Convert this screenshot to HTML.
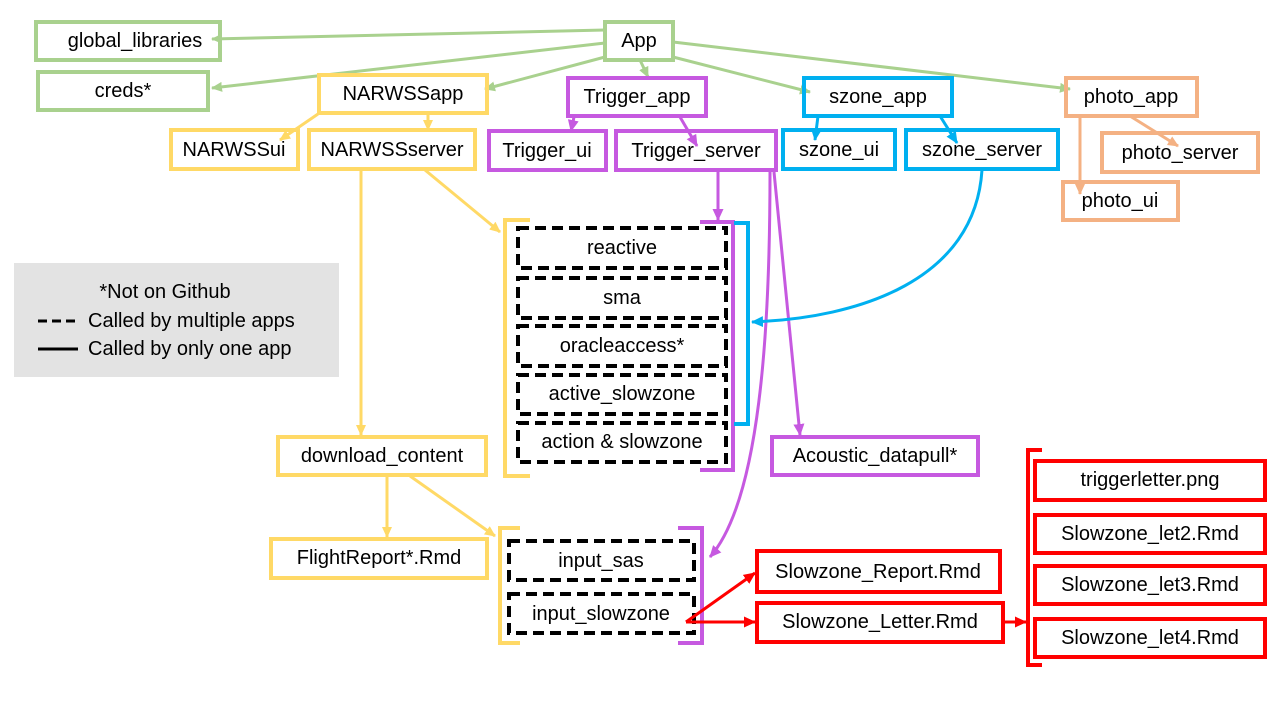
<!DOCTYPE html>
<html><head><meta charset="utf-8"><style>
body{margin:0;background:#fff;}
svg{display:block;}
text{font-family:"Liberation Sans",sans-serif;font-size:20px;fill:#000;text-anchor:middle;dominant-baseline:central;}
</style></head><body>
<svg width="1280" height="720" viewBox="0 0 1280 720" xmlns="http://www.w3.org/2000/svg">
<defs>
<marker id="g" markerWidth="11" markerHeight="10" refX="10" refY="5" orient="auto" markerUnits="userSpaceOnUse"><path d="M0,0 L11,5 L0,10 z" fill="#a9d18e"/></marker>
<marker id="y" markerWidth="11" markerHeight="10" refX="10" refY="5" orient="auto" markerUnits="userSpaceOnUse"><path d="M0,0 L11,5 L0,10 z" fill="#ffd966"/></marker>
<marker id="p" markerWidth="12" markerHeight="11" refX="11" refY="5.5" orient="auto" markerUnits="userSpaceOnUse"><path d="M0,0 L12,5.5 L0,11 z" fill="#c659e0"/></marker>
<marker id="b" markerWidth="12" markerHeight="11" refX="11" refY="5.5" orient="auto" markerUnits="userSpaceOnUse"><path d="M0,0 L12,5.5 L0,11 z" fill="#00b0f0"/></marker>
<marker id="o" markerWidth="11" markerHeight="10" refX="10" refY="5" orient="auto" markerUnits="userSpaceOnUse"><path d="M0,0 L11,5 L0,10 z" fill="#f4b183"/></marker>
<marker id="r" markerWidth="12" markerHeight="11" refX="11" refY="5.5" orient="auto" markerUnits="userSpaceOnUse"><path d="M0,0 L12,5.5 L0,11 z" fill="#ff0000"/></marker>
</defs>
<g fill="none" stroke-width="4">
<g stroke="#a9d18e">
<rect x="36" y="22" width="184" height="38"/><rect x="605" y="22" width="68" height="38"/><rect x="38" y="72" width="170" height="38"/>
</g>
<g stroke="#a9d18e" stroke-width="3">
<line x1="605" y1="30" x2="212" y2="39" marker-end="url(#g)"/>
<line x1="605" y1="43" x2="212" y2="88" marker-end="url(#g)"/>
<line x1="605" y1="57" x2="485" y2="89" marker-end="url(#g)"/>
<line x1="640" y1="60" x2="648" y2="77" marker-end="url(#g)"/>
<line x1="673" y1="57" x2="810" y2="92" marker-end="url(#g)"/>
<line x1="673" y1="42" x2="1070" y2="89" marker-end="url(#g)"/>
</g>
<g stroke="#ffd966">
<rect x="319" y="75" width="168" height="38"/><rect x="171" y="130" width="127" height="39"/><rect x="309" y="130" width="166" height="39"/>
<rect x="278" y="437" width="208" height="38"/><rect x="271" y="539" width="216" height="39"/>
<path d="M530,220 H505 V476 H530"/><path d="M520,528 H500 V643 H520"/>
</g>
<g stroke="#ffd966" stroke-width="3">
<line x1="318" y1="114" x2="280" y2="140" marker-end="url(#y)"/>
<line x1="428" y1="114" x2="428" y2="130" marker-end="url(#y)"/>
<line x1="361" y1="170" x2="361" y2="435" marker-end="url(#y)"/>
<line x1="425" y1="170" x2="500" y2="232" marker-end="url(#y)"/>
<line x1="387" y1="476" x2="387" y2="537" marker-end="url(#y)"/>
<line x1="410" y1="476" x2="495" y2="536" marker-end="url(#y)"/>
</g>
<g stroke="#c659e0">
<rect x="568" y="78" width="138" height="38"/><rect x="489" y="131" width="117" height="39"/><rect x="616" y="131" width="160" height="39"/>
<rect x="772" y="437" width="206" height="38"/>
<path d="M700,222 H733 V470 H700"/><path d="M678,528 H702 V643 H678"/>
</g>
<g stroke="#c659e0" stroke-width="3">
<line x1="574" y1="117" x2="571" y2="131" marker-end="url(#p)"/>
<line x1="680" y1="117" x2="697" y2="146" marker-end="url(#p)"/>
<line x1="718" y1="170" x2="718" y2="220" marker-end="url(#p)"/>
<line x1="774" y1="172" x2="800" y2="435" marker-end="url(#p)"/>
<path d="M770,172 C770,330 760,500 710,557" marker-end="url(#p)"/>
</g>
<g stroke="#00b0f0">
<rect x="804" y="78" width="148" height="38"/><rect x="783" y="130" width="112" height="39"/><rect x="906" y="130" width="152" height="39"/>
<path d="M734,223 H748 V424 H734"/>
</g>
<g stroke="#00b0f0" stroke-width="3">
<line x1="818" y1="116" x2="815" y2="140" marker-end="url(#b)"/>
<line x1="940" y1="116" x2="957" y2="143" marker-end="url(#b)"/>
<path d="M982,170 C975,280 860,318 752,322" marker-end="url(#b)"/>
</g>
<g stroke="#f4b183">
<rect x="1066" y="78" width="131" height="38"/><rect x="1102" y="133" width="156" height="39"/><rect x="1063" y="182" width="115" height="38"/>
</g>
<g stroke="#f4b183" stroke-width="3">
<line x1="1130" y1="116" x2="1178" y2="146" marker-end="url(#o)"/>
<line x1="1080" y1="116" x2="1080" y2="194" marker-end="url(#o)"/>
</g>
<g stroke="#000" stroke-width="4" stroke-dasharray="11,6">
<rect x="518" y="228" width="208" height="40"/><rect x="518" y="278" width="208" height="40"/>
<rect x="518" y="326" width="208" height="40"/><rect x="518" y="375" width="208" height="39"/>
<rect x="518" y="423" width="208" height="39"/>
<rect x="509" y="541" width="185" height="39"/><rect x="509" y="594" width="185" height="39"/>
</g>
<g stroke="#ff0000">
<rect x="757" y="551" width="243" height="41"/><rect x="757" y="603" width="246" height="39"/>
<rect x="1035" y="461" width="230" height="39"/><rect x="1035" y="515" width="230" height="38"/>
<rect x="1035" y="566" width="230" height="38"/><rect x="1035" y="619" width="230" height="38"/>
<path d="M1042,450 H1028 V665 H1042"/>
</g>
<g stroke="#ff0000" stroke-width="3">
<line x1="686" y1="622" x2="755" y2="573" marker-end="url(#r)"/>
<line x1="686" y1="622" x2="755" y2="622" marker-end="url(#r)"/>
<line x1="1004" y1="622" x2="1026" y2="622" marker-end="url(#r)"/>
</g>
</g>
<rect x="14" y="263" width="325" height="114" fill="#e3e3e3"/>
<line x1="38" y1="321" x2="78" y2="321" stroke="#000" stroke-width="3" stroke-dasharray="9,5"/>
<line x1="38" y1="349" x2="78" y2="349" stroke="#000" stroke-width="3"/>
<text x="165" y="292">*Not on Github</text>
<text x="88" y="321" style="text-anchor:start">Called by multiple apps</text>
<text x="88" y="349" style="text-anchor:start">Called by only one app</text>
<text x="135" y="41">global_libraries</text>
<text x="639" y="41">App</text>
<text x="123" y="91">creds*</text>
<text x="403" y="94">NARWSSapp</text>
<text x="637" y="97">Trigger_app</text>
<text x="878" y="97">szone_app</text>
<text x="1131" y="97">photo_app</text>
<text x="234" y="150">NARWSSui</text>
<text x="392" y="150">NARWSSserver</text>
<text x="547" y="151">Trigger_ui</text>
<text x="696" y="151">Trigger_server</text>
<text x="839" y="150">szone_ui</text>
<text x="982" y="150">szone_server</text>
<text x="1180" y="153">photo_server</text>
<text x="1120" y="201">photo_ui</text>
<text x="622" y="248">reactive</text>
<text x="622" y="298">sma</text>
<text x="622" y="346">oracleaccess*</text>
<text x="622" y="394">active_slowzone</text>
<text x="622" y="442">action &amp; slowzone</text>
<text x="875" y="456">Acoustic_datapull*</text>
<text x="382" y="456">download_content</text>
<text x="379" y="558">FlightReport*.Rmd</text>
<text x="601" y="561">input_sas</text>
<text x="601" y="614">input_slowzone</text>
<text x="878" y="572">Slowzone_Report.Rmd</text>
<text x="880" y="622">Slowzone_Letter.Rmd</text>
<text x="1150" y="480">triggerletter.png</text>
<text x="1150" y="534">Slowzone_let2.Rmd</text>
<text x="1150" y="585">Slowzone_let3.Rmd</text>
<text x="1150" y="638">Slowzone_let4.Rmd</text>
</svg>
</body></html>
